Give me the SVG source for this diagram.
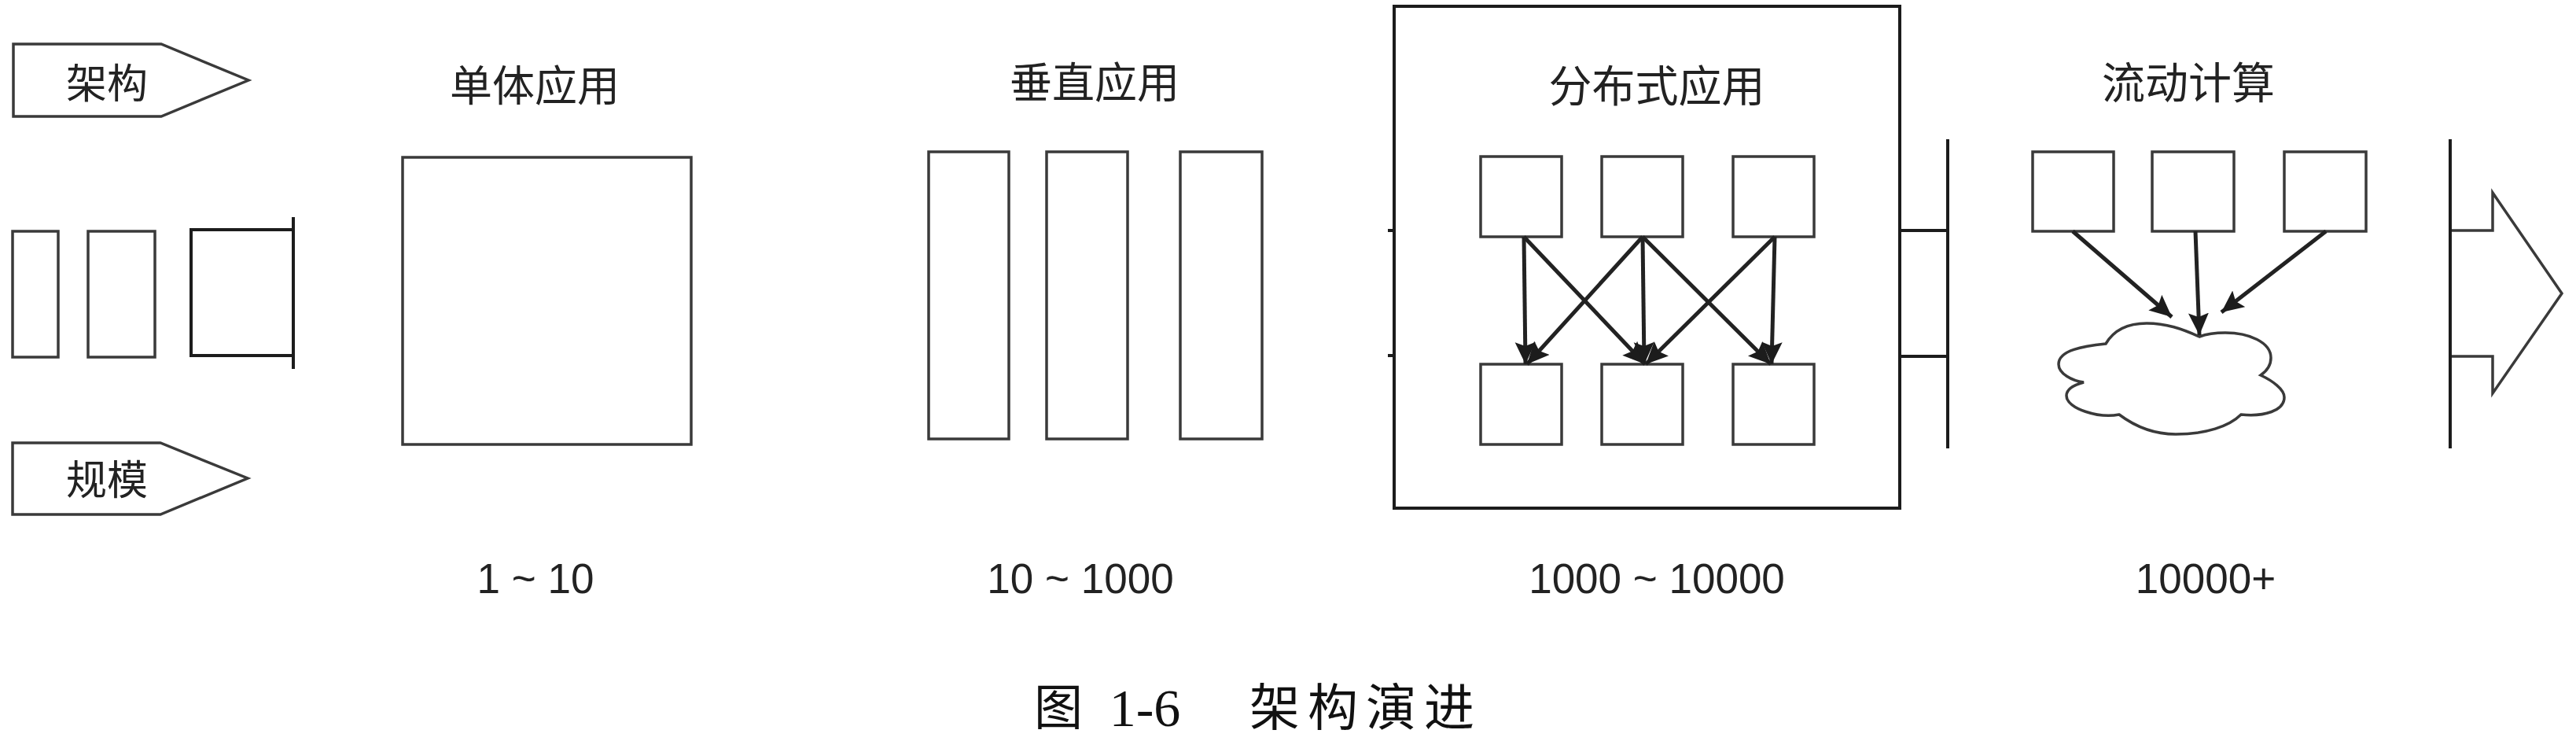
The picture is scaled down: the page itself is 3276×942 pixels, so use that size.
<svg xmlns="http://www.w3.org/2000/svg" width="3276" height="942" viewBox="0 0 3276 942">
<style>
.s{fill:#fff;stroke:#3a3a3a;stroke-width:3.5}
.k{fill:none;stroke:#1c1c1c;stroke-width:4}
.c{fill:none;stroke:#222;stroke-width:5;marker-end:url(#ah)}
.l{font-family:"Noto Sans CJK SC","Liberation Sans",sans-serif;fill:#222;font-weight:400;text-anchor:middle}
.n{font-family:"Liberation Sans",Arial,sans-serif;font-size:53px;fill:#222;text-anchor:middle}
</style>
<defs>
<marker id="ah" markerUnits="userSpaceOnUse" markerWidth="32" markerHeight="28" refX="28" refY="13" orient="auto">
<path d="M0 0L28 13L0 26L5 13Z" fill="#1c1c1c"/>
</marker>
</defs>
<rect width="3276" height="942" fill="#fff"/>
<g id="legend-architecture"><path class="s" d="M17 56H205L316 102L205 148H17Z"/><text class="l" x="136" y="125" font-size="52">架构</text></g>
<g id="legend-scale"><path class="s" d="M16 563H204L315 608L204 654H16Z"/><text class="l" x="136" y="629" font-size="52">规模</text></g>
<g id="small-bar-1"><rect class="s" x="16" y="294" width="58" height="160"/></g>
<g id="small-bar-2"><rect class="s" x="112" y="294" width="85" height="160"/></g>
<g id="small-bar-3"><path class="k" d="M373 292H243V452H373"/><path class="k" d="M373 276V469"/></g>
<g id="monolith"><text class="l" x="680" y="129" font-size="54">单体应用</text><rect class="s" x="512" y="200" width="367" height="365"/><text class="n" x="681" y="754">1 ~ 10</text></g>
<g id="vertical"><text class="l" x="1392" y="125" font-size="54">垂直应用</text><rect class="s" x="1181" y="193" width="102" height="365"/><rect class="s" x="1331" y="193" width="103" height="365"/><rect class="s" x="1501" y="193" width="104" height="365"/><text class="n" x="1374" y="754">10 ~ 1000</text></g>
<g id="distributed"><rect class="k" x="1773" y="8" width="643" height="638"/><path class="k" d="M1765 293H1773M1765 452H1773"/><text class="l" x="2107" y="129" font-size="55">分布式应用</text>
<rect class="s" x="1883" y="199" width="103" height="102"/><rect class="s" x="2037" y="199" width="103" height="102"/><rect class="s" x="2204" y="199" width="103" height="102"/>
<rect class="s" x="1883" y="463" width="103" height="102"/><rect class="s" x="2037" y="463" width="103" height="102"/><rect class="s" x="2204" y="463" width="103" height="102"/><text class="n" x="2107" y="754">1000 ~ 10000</text></g>
<g id="flow"><path class="k" d="M2416 293H2477M2416 453H2477M2477 177V570"/><text class="l" x="2783" y="125" font-size="55">流动计算</text>
<rect class="s" x="2585" y="193" width="103" height="101"/><rect class="s" x="2737" y="193" width="104" height="101"/><rect class="s" x="2905" y="193" width="104" height="101"/>
<path class="s" d="M2797 428C2775 418 2755 411 2730 411C2705 411 2688 420 2678 437C2650 440 2618 445 2618 463C2618 475 2635 484 2650 486C2635 490 2628 495 2628 503C2628 520 2670 532 2695 527C2715 542 2740 552 2767 552C2805 552 2835 542 2850 527C2880 530 2905 522 2905 505C2905 495 2890 484 2875 477C2885 470 2888 462 2888 455C2888 435 2860 423 2830 423C2815 423 2805 425 2797 428Z"/>
<text class="n" x="2805" y="754">10000+</text></g>
<g id="next"><path class="s" d="M3116 293H3170V245L3258 373L3170 500V453H3116"/><path class="k" d="M3116 177V570"/></g>
<g id="connectors">
<path class="c" d="M1938 301L1940 463"/><path class="c" d="M1938 301L2092 463"/><path class="c" d="M2089 301L1942 463"/><path class="c" d="M2089 301L2091 463"/><path class="c" d="M2089 301L2252 463"/><path class="c" d="M2257 301L2093 463"/><path class="c" d="M2257 301L2253 463"/>
<path class="c" d="M2636 294L2762 403"/><path class="c" d="M2792 294L2797 426"/><path class="c" d="M2958 294L2825 397"/>
</g>
<g id="caption"><text x="1346" y="922" font-family="Noto Sans CJK SC,sans-serif" font-size="62" fill="#111" text-anchor="middle">图</text><text x="1456" y="923" font-family="Liberation Serif,serif" font-size="68" fill="#111" text-anchor="middle">1-6</text><text x="1737" y="922" font-family="Noto Sans CJK SC,sans-serif" font-size="64" letter-spacing="10" fill="#111" text-anchor="middle">架构演进</text></g>
</svg>
